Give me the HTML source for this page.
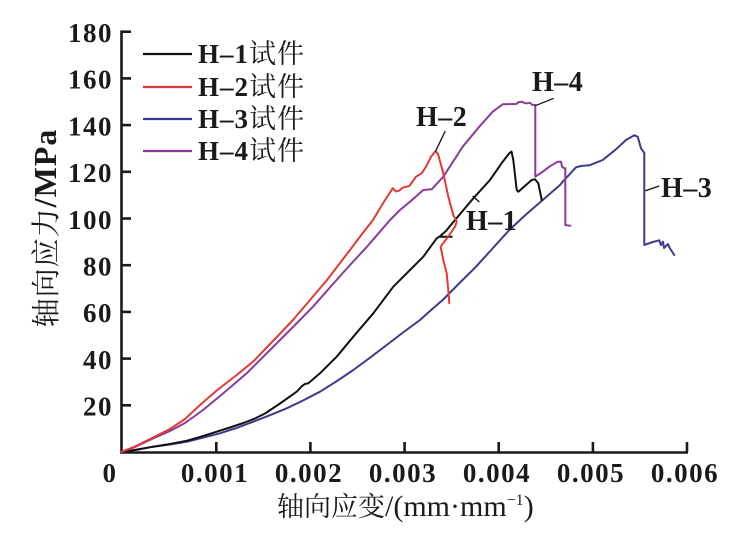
<!DOCTYPE html>
<html><head><meta charset="utf-8"><style>
html,body{margin:0;padding:0;background:#fff;}
svg{display:block;}
.t{font-family:"Liberation Serif","Noto Serif CJK SC",serif;font-weight:bold;font-size:27px;fill:#1a1a1a;letter-spacing:1.5px;}
.cj{font-family:"Noto Serif CJK SC","Liberation Serif",serif;font-weight:normal;}
</style></head><body>
<svg width="752" height="546" viewBox="0 0 752 546" xmlns="http://www.w3.org/2000/svg">
<rect width="752" height="546" fill="#fff"/>
<!-- axes -->
<g stroke="#1a1a1a" stroke-width="2.6" fill="none">
<line x1="121.5" y1="30.5" x2="121.5" y2="453"/>
<line x1="120" y1="452.5" x2="688" y2="452.5"/>
<line x1="121" y1="31.7" x2="131" y2="31.7"/>
<line x1="121" y1="78.4" x2="131" y2="78.4"/>
<line x1="121" y1="125.1" x2="131" y2="125.1"/>
<line x1="121" y1="171.8" x2="131" y2="171.8"/>
<line x1="121" y1="218.5" x2="131" y2="218.5"/>
<line x1="121" y1="265.2" x2="131" y2="265.2"/>
<line x1="121" y1="311.9" x2="131" y2="311.9"/>
<line x1="121" y1="358.6" x2="131" y2="358.6"/>
<line x1="121" y1="405.3" x2="131" y2="405.3"/>
<line x1="216.3" y1="442" x2="216.3" y2="452"/>
<line x1="310.4" y1="442" x2="310.4" y2="452"/>
<line x1="404.6" y1="442" x2="404.6" y2="452"/>
<line x1="498.7" y1="442" x2="498.7" y2="452"/>
<line x1="592.9" y1="442" x2="592.9" y2="452"/>
<line x1="687" y1="442" x2="687" y2="452"/>
</g>
<!-- y tick labels -->
<g class="t" text-anchor="end">
<text x="113" y="42">180</text>
<text x="113" y="88.7">160</text>
<text x="113" y="135.4">140</text>
<text x="113" y="182.1">120</text>
<text x="113" y="228.8">100</text>
<text x="113" y="275.5">80</text>
<text x="113" y="322.2">60</text>
<text x="113" y="368.9">40</text>
<text x="113" y="415.6">20</text>
</g>
<!-- x tick labels -->
<g class="t" text-anchor="middle">
<text x="110" y="482">0</text>
<text x="215" y="482">0.001</text>
<text x="309" y="482">0.002</text>
<text x="403" y="482">0.003</text>
<text x="497" y="482">0.004</text>
<text x="591" y="482">0.005</text>
<text x="685" y="482">0.006</text>
</g>
<!-- axis titles -->
<text x="277" y="516" style="font-family:'Liberation Serif','Noto Serif CJK SC',serif;font-size:30px;fill:#1a1a1a;"><tspan class="cj" style="font-size:27px;">轴向应变</tspan>/(mm·mm<tspan dy="-11" style="font-size:16px;">−1</tspan><tspan dy="11">)</tspan></text>
<text transform="translate(56,228) rotate(-90)" text-anchor="middle" style="font-family:'Liberation Serif','Noto Serif CJK SC',serif;font-size:32px;font-weight:bold;fill:#1a1a1a;letter-spacing:1px;"><tspan class="cj" style="font-size:29px;">轴向应力</tspan>/MPa</text>
<!-- legend -->
<g stroke-width="2.2">
<line x1="143" y1="54" x2="192" y2="54" stroke="#111"/>
<line x1="143" y1="87" x2="192" y2="87" stroke="#e23b36"/>
<line x1="143" y1="119" x2="192" y2="119" stroke="#3b3a8e"/>
<line x1="143" y1="151" x2="192" y2="151" stroke="#8a3b9c"/>
</g>
<g class="t" style="letter-spacing:1px;">
<text x="198" y="63">H–1<tspan class="cj">试件</tspan></text>
<text x="198" y="96">H–2<tspan class="cj">试件</tspan></text>
<text x="198" y="128">H–3<tspan class="cj">试件</tspan></text>
<text x="198" y="160">H–4<tspan class="cj">试件</tspan></text>
</g>
<!-- curves -->
<g fill="none" stroke-width="2" stroke-linejoin="round" stroke-linecap="round">
<!-- H-3 blue -->
<polyline stroke="#3b3a8e" points="121,452 135,450 153,446.7 170,444.5 187,441.7 203,437.7 220,433.3 237,427.8 253.3,421.7 270,415.2 286.7,408.3 303,400.5 320,391.7 336.7,381.2 353.3,370 370,357.7 386.7,345 403,332.5 420,320 430,311 442.7,300 459,283.5 476,266.7 492.5,248.5 509.3,230 526,214.5 542.7,200 560,185 562.7,181.7 576,167.3 581,166 589.3,165.3 596,162.7 602.7,160 616,149.3 626,140 634.3,135.3 637.7,136.7 641,148.3 642.7,150.7 644.3,153 644.3,245 652.7,242 659.3,240.3 661,245 663,241.7 664,248 668,244 669.7,248 674.3,255"/>
<!-- H-1 black -->
<polyline stroke="#111" points="121,452 135,450 153,446.7 170,444 187,440.7 200,437 216.7,431.7 230,427.5 243.3,423 255,418.5 265,413.5 280,403.5 296.7,391.7 302,386 305,384 308.3,383.3 320,373.3 336.7,356.7 353.3,336.7 373.3,313.3 393.3,286.7 410,270 423.3,256.7 436.7,238.3 439.3,236.7 446,231 450,226 473.3,198.3 490,180 502.7,161.7 509.3,153.3 511.5,151.5 513.3,160 516.7,190 518.3,191.7 531.7,180 535,179.3 538.3,183.3 541.7,200"/>
<line x1="439.3" y1="236.7" x2="451.7" y2="236.7" stroke="#111"/>
<!-- H-4 purple -->
<polyline stroke="#8a3b9c" points="121,452 135,447 153,438.5 170,431 185,423 203,410 223,393.5 246.7,373.3 270,350 293,327 313,306.7 333,284 350,265 367,246.7 390,220 400,210 410,201.7 423.3,190 431.7,189.3 443.3,176.7 462.7,146.7 479.3,126.7 492.7,111.7 502.7,104.3 516,104 519,102 522,101.7 525,103.3 528,103.3 530,102.7 532,104.7 535.3,105 535.3,176.7 542.7,171.7 549.3,166.7 557.7,161.7 561,161.7 562,166.7 564.3,168.3 565.3,168.3 565.3,225 570.3,225.7"/>
<!-- H-2 red -->
<polyline stroke="#e23b36" points="121,452 135,446.5 153,437.5 170,429 185,419 200,405 216.7,390.5 236.7,375 253,361.7 273,341 293,320 310,300 327,280 350,250 362,234 373,220 382,205 387,197 392.7,188.3 396,191.5 399,190.7 402.7,187.7 409.3,186 416,176.7 421.7,173.3 426,166.7 431,156.7 435,151.7 437,152.5 438.3,155 443.3,173.3 448.3,196.7 453.3,215 456.7,221.7 455,226.7 448,237 441.7,245 440.7,247.3 443.3,260 446.7,273.3 448.3,290 449.3,303.3"/>
</g>
<!-- annotations -->
<g stroke="#111" stroke-width="1.3">
<line x1="445.3" y1="131" x2="435.3" y2="151.7"/>
<line x1="553.7" y1="98.3" x2="535.3" y2="105.7"/>
<line x1="479.3" y1="202" x2="472.7" y2="196"/>
<line x1="659.3" y1="186" x2="645.3" y2="190.7"/>
</g>
<g class="t" style="font-size:28px;letter-spacing:0.5px;">
<text x="416" y="126">H–2</text>
<text x="532" y="91">H–4</text>
<text x="466" y="230">H–1</text>
<text x="661" y="197">H–3</text>
</g>
</svg>
</body></html>
